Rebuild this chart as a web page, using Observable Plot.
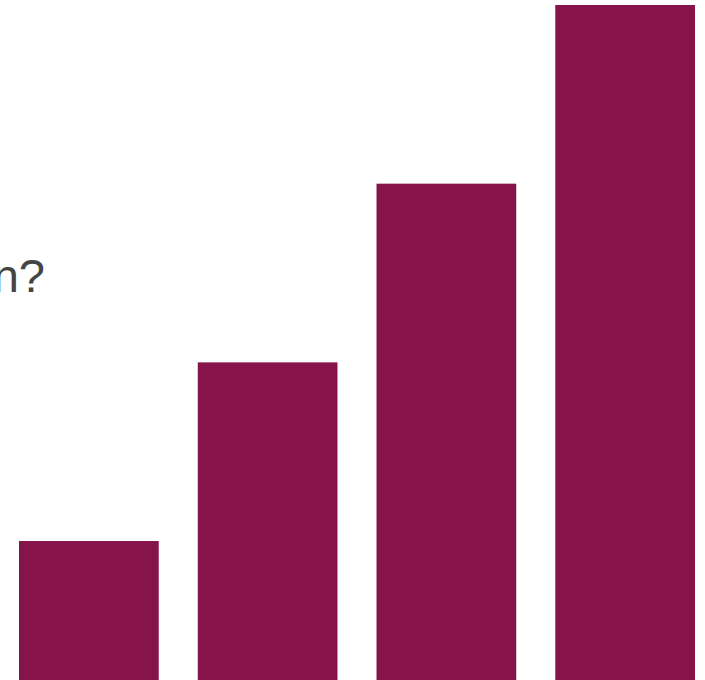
<!DOCTYPE html>
<html>
<head>
<meta charset="utf-8">
<script src="https://cdn.jsdelivr.net/npm/d3@7"></script>
<script src="https://cdn.jsdelivr.net/npm/@observablehq/plot@0.6"></script>
<style>
  html, body { margin: 0; padding: 0; overflow: hidden; background: white; }
  #wrap { position: relative; width: 705px; height: 680px; }
  #title {
    position: absolute; top: 253px; right: calc(705px - 45px);
    font: 47px/46px "Liberation Sans", Arial, Helvetica, sans-serif;
    color: #444444; white-space: nowrap;
  }
</style>
</head>
<body>
<div id="wrap">
  <div id="chart"></div>
  <div id="title">What's the question?</div>
</div>
<script>
const categories = ["A", "B", "C", "D"];
const values = [1, 2, 3, 4];
const data = categories.map((c, i) => ({category: c, value: values[i]}));

const chart = Plot.plot({
  width: 705,
  height: 680,
  margin: 0,
  x: {axis: null, domain: categories, range: [19, 695], paddingInner: 0.2184, paddingOuter: 0, round: false},
  y: {axis: null, domain: [0, 4], range: [719.7, 5]},
  marks: [
    Plot.barY(data, {x: "category", y: "value", fill: "#86134A", insetLeft: 0, insetRight: 0})
  ]
});
chart.style.overflow = "hidden";
document.getElementById("chart").appendChild(chart);
</script>
</body>
</html>
